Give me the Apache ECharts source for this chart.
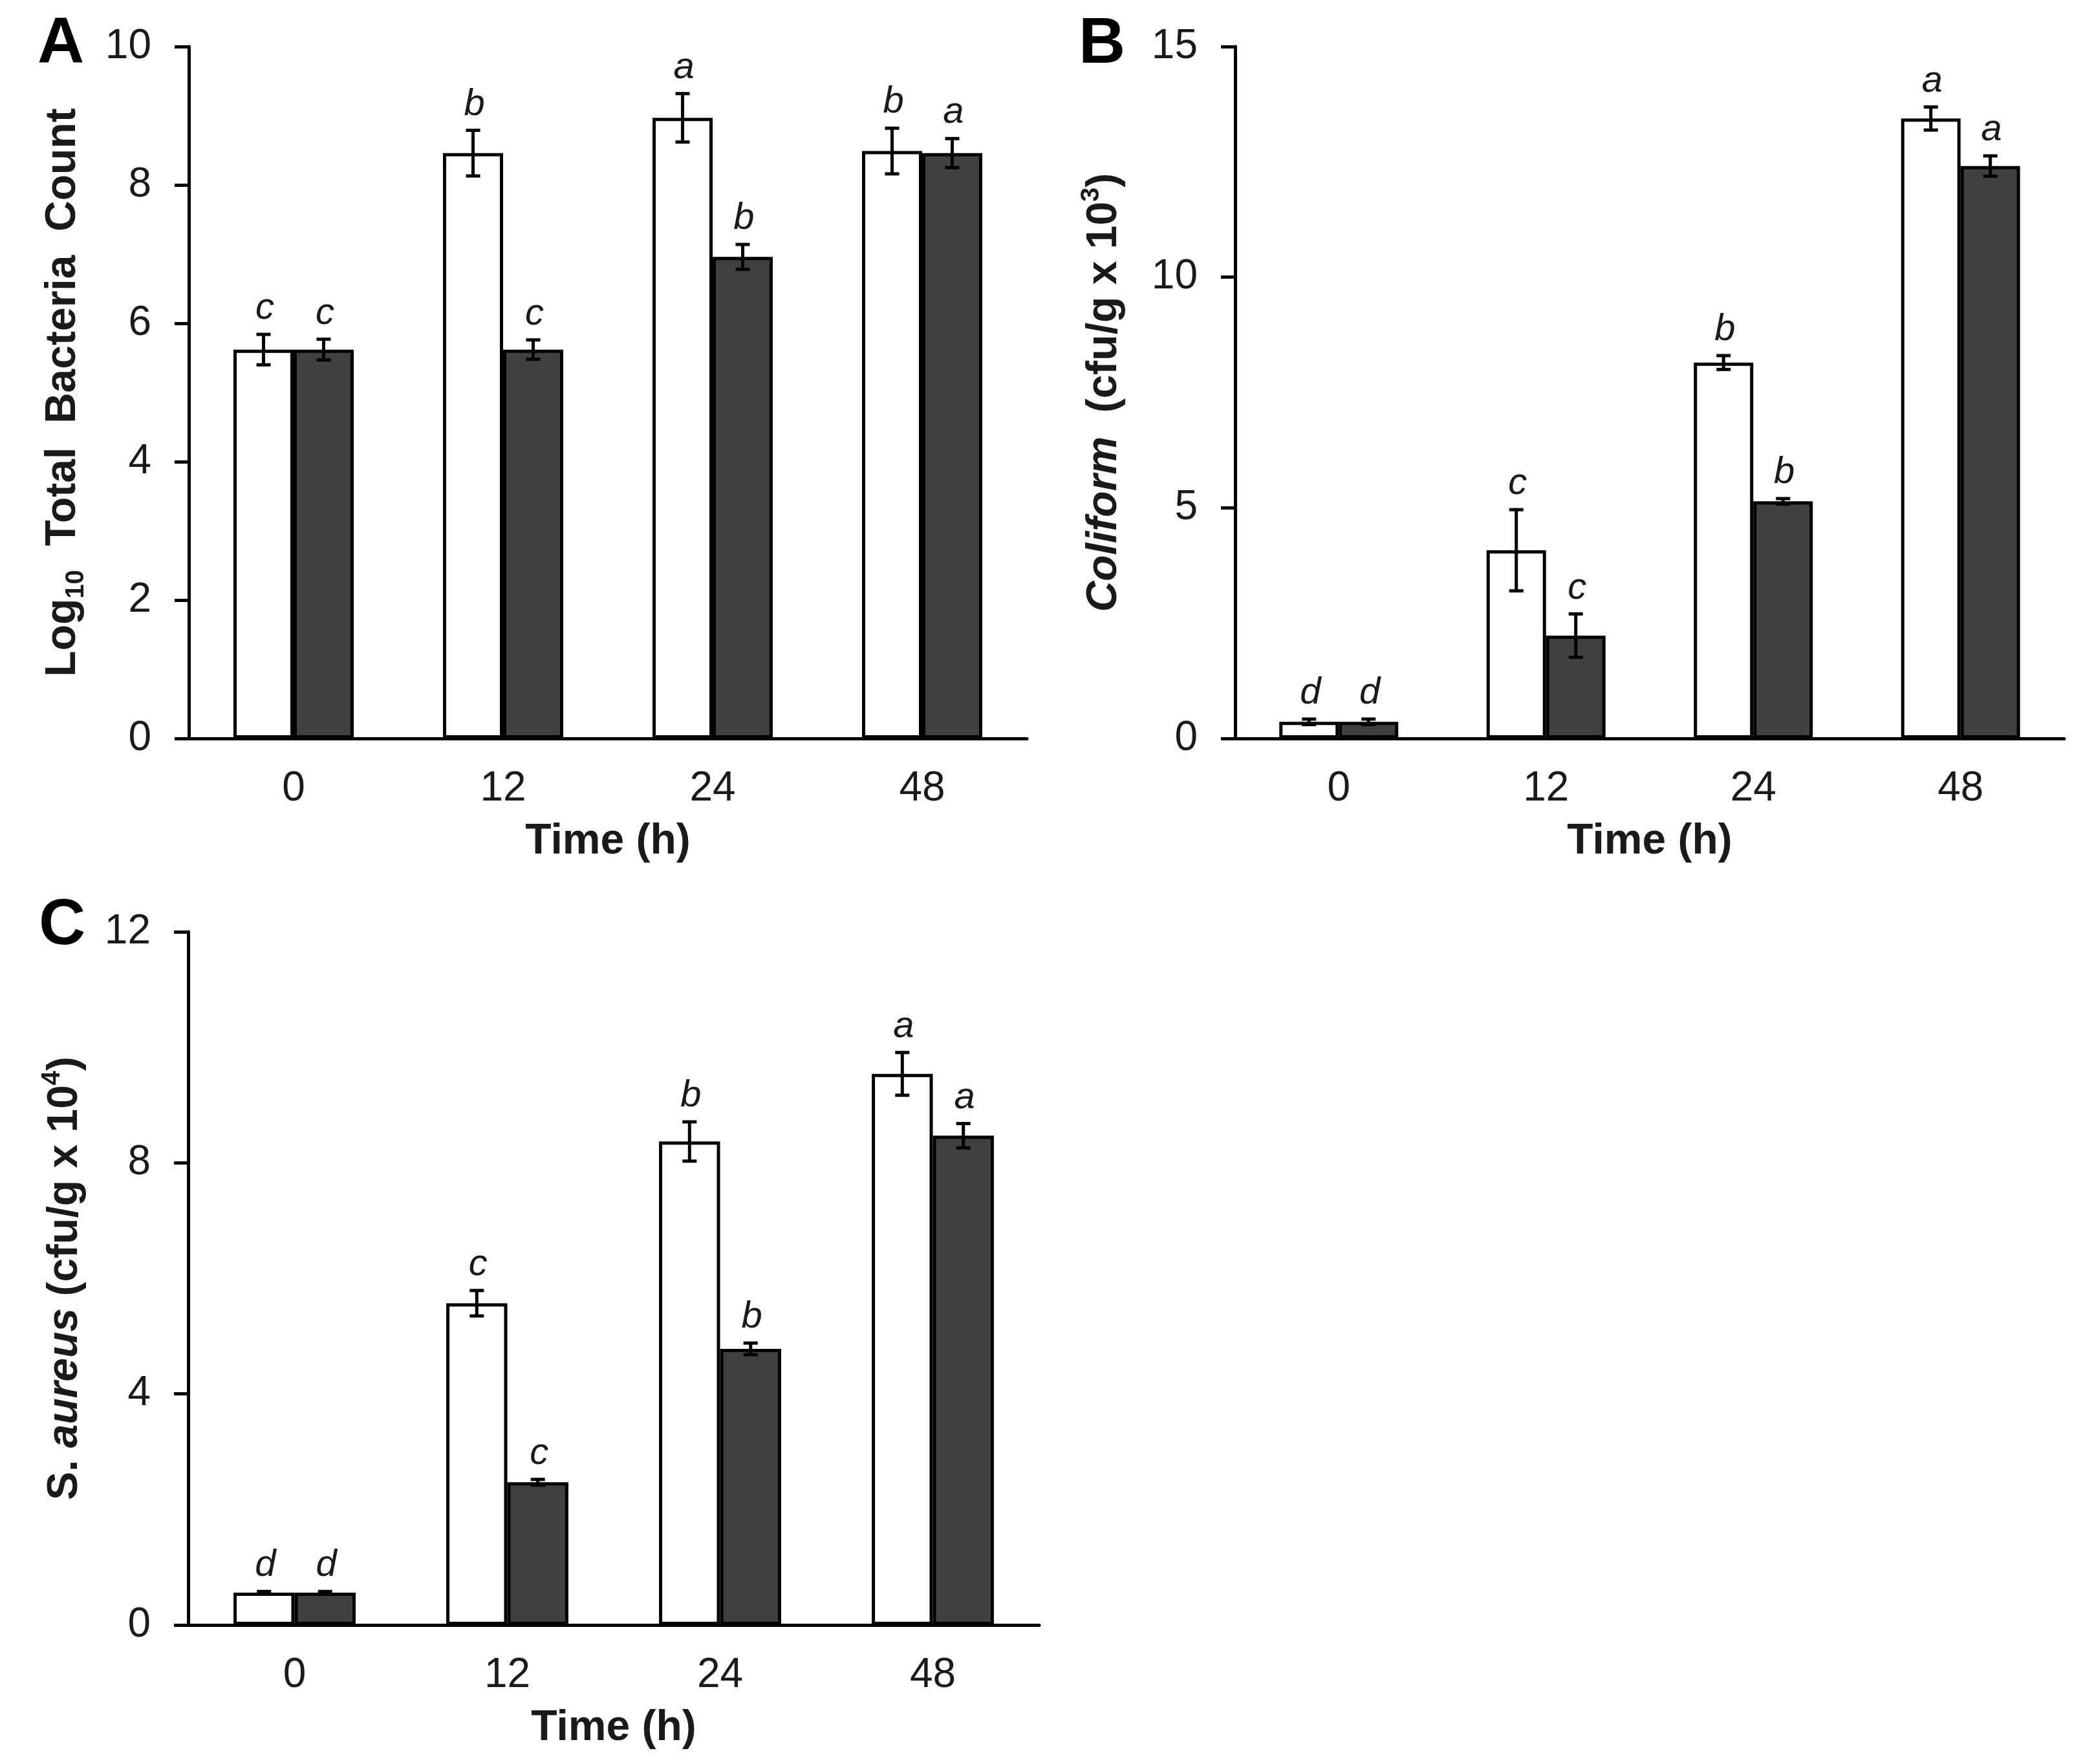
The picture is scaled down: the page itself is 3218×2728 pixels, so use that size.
<!DOCTYPE html>
<html>
<head>
<meta charset="utf-8">
<script src="https://cdn.jsdelivr.net/npm/echarts@6/dist/echarts.min.js"></script>
<style>
  html, body { margin: 0; padding: 0; background: #fff; }
  #chart { width: 3218px; height: 2728px; }
</style>
</head>
<body>
<div id="chart"></div>
<script>
// sampling times shared by the three panels
const timeLabels = ['0', '12', '24', '48'];

// A: log10 total bacteria count
const totalWhite = [5.62, 8.46, 8.97, 8.49];
const totalWhiteErr = [0.22, 0.33, 0.35, 0.33];
const totalWhiteLetters = ['c', 'b', 'a', 'b'];
const totalDark = [5.62, 5.62, 6.96, 8.46];
const totalDarkErr = [0.15, 0.14, 0.18, 0.21];
const totalDarkLetters = ['c', 'c', 'b', 'a'];

// B: coliform (cfu/g x 10^3)
const coliWhite = [0.36, 4.08, 8.15, 13.44];
const coliWhiteErr = [0.06, 0.88, 0.15, 0.25];
const coliWhiteLetters = ['d', 'c', 'b', 'a'];
const coliDark = [0.36, 2.23, 5.14, 12.41];
const coliDarkErr = [0.06, 0.47, 0.06, 0.22];
const coliDarkLetters = ['d', 'c', 'b', 'a'];

// C: S. aureus (cfu/g x 10^4)
const saWhite = [0.56, 5.57, 8.37, 9.54];
const saWhiteErr = [0.02, 0.22, 0.34, 0.37];
const saWhiteLetters = ['d', 'c', 'b', 'a'];
const saDark = [0.56, 2.47, 4.78, 8.47];
const saDarkErr = [0.02, 0.05, 0.10, 0.21];
const saDarkLetters = ['d', 'c', 'b', 'a'];

const FONT = 'Liberation Sans, Arial, sans-serif';
const INK = '#1a1a1a';
const BAR_FRACTION = 0.287;
const LINE_W = 5;

const richTitle = {
  b: { fontSize: 66, fontWeight: 'bold', fontFamily: FONT, color: INK, lineHeight: 80 },
  i: { fontSize: 66, fontWeight: 'bold', fontStyle: 'italic', fontFamily: FONT, color: INK, lineHeight: 80 },
  sub: { fontSize: 40, fontWeight: 'bold', fontFamily: FONT, color: INK, lineHeight: 42, verticalAlign: 'bottom' },
  sup: { fontSize: 40, fontWeight: 'bold', fontFamily: FONT, color: INK, lineHeight: 54, verticalAlign: 'top' }
};

function makeX(gridIndex) {
  return {
    type: 'category',
    gridIndex,
    data: timeLabels,
    name: 'Time (h)',
    nameLocation: 'middle',
    nameGap: 127,
    nameTextStyle: { fontSize: 66, fontWeight: 'bold', fontFamily: FONT, color: INK, lineHeight: 66 },
    axisLine: { lineStyle: { color: '#000', width: LINE_W } },
    axisTick: { show: false },
    axisLabel: { fontSize: 64, fontFamily: FONT, color: INK, margin: 46 },
    splitLine: { show: false }
  };
}

function makeY(gridIndex, max, interval, name, nameGap) {
  return {
    type: 'value',
    gridIndex,
    min: 0,
    max,
    interval,
    name,
    nameLocation: 'middle',
    nameGap,
    nameTextStyle: { rich: richTitle },
    axisLine: { show: true, lineStyle: { color: '#000', width: LINE_W } },
    axisTick: { show: true, length: 22, lineStyle: { color: '#000', width: LINE_W } },
    axisLabel: { fontSize: 64, fontFamily: FONT, color: INK, margin: 58 },
    splitLine: { show: false }
  };
}

function barSeries(gridIndex, values, fill) {
  return {
    type: 'bar',
    xAxisIndex: gridIndex,
    yAxisIndex: gridIndex,
    data: values,
    barWidth: (BAR_FRACTION * 100) + '%',
    barGap: '0%',
    itemStyle: { color: fill, borderColor: '#000', borderWidth: LINE_W },
    emphasis: { disabled: true }
  };
}

// error bar plus significance letter, drawn on top of one bar of each pair
function errorSeries(gridIndex, values, errs, letters, side) {
  return {
    type: 'custom',
    xAxisIndex: gridIndex,
    yAxisIndex: gridIndex,
    z: 5,
    data: values.map((v, i) => [i, v, errs[i]]),
    encode: { x: 0, y: 1 },
    renderItem: function (params, api) {
      const idx = api.value(0);
      const mean = api.value(1);
      const err = api.value(2);
      const centre = api.coord([idx, mean]);
      const catW = api.size([1, 0])[0];
      const x = centre[0] + side * catW * BAR_FRACTION / 2;
      const yTop = api.coord([idx, mean + err])[1];
      const yBot = api.coord([idx, mean - err])[1];
      const cap = 11;
      const line = { stroke: '#000', lineWidth: LINE_W };
      return {
        type: 'group',
        children: [
          { type: 'line', shape: { x1: x, y1: yTop, x2: x, y2: yBot }, style: line },
          { type: 'line', shape: { x1: x - cap, y1: yTop, x2: x + cap, y2: yTop }, style: line },
          { type: 'line', shape: { x1: x - cap, y1: yBot, x2: x + cap, y2: yBot }, style: line },
          {
            type: 'text',
            style: {
              text: letters[params.dataIndex],
              x: x + 2,
              y: yTop - 11,
              align: 'center',
              verticalAlign: 'bottom',
              fontSize: 58,
              fontStyle: 'italic',
              fontFamily: FONT,
              fill: INK
            }
          }
        ]
      };
    }
  };
}

function panelLetter(text, x, y) {
  return {
    type: 'text',
    x,
    y,
    style: {
      text,
      align: 'left',
      verticalAlign: 'middle',
      fontSize: 100,
      fontWeight: 'bold',
      fontFamily: FONT,
      fill: '#000'
    }
  };
}

const chart = echarts.init(document.getElementById('chart'));

chart.setOption({
  animation: false,
  backgroundColor: '#fff',
  grid: [
    { left: 292, top: 72, width: 1296, height: 1070 },
    { left: 1910, top: 72, width: 1282, height: 1070 },
    { left: 291, top: 1441, width: 1316, height: 1072 }
  ],
  xAxis: [makeX(0), makeX(1), makeX(2)],
  yAxis: [
    makeY(0, 10, 2, '{b|Log}{sub|10}{b|  Total  Bacteria  Count}', 154),
    makeY(1, 15, 5, '{i|Coliform}{b|  (cfu/g x 10}{sup|3}{b|)}', 162),
    makeY(2, 12, 4, '{b|S. }{i|aureus}{b| (cfu/g x 10}{sup|4}{b|)}', 150)
  ],
  graphic: [
    panelLetter('A', 58, 69),
    panelLetter('B', 1668, 69),
    panelLetter('C', 60, 1432)
  ],
  series: [
    barSeries(0, totalWhite, '#ffffff'),
    barSeries(0, totalDark, '#404040'),
    errorSeries(0, totalWhite, totalWhiteErr, totalWhiteLetters, -1),
    errorSeries(0, totalDark, totalDarkErr, totalDarkLetters, 1),

    barSeries(1, coliWhite, '#ffffff'),
    barSeries(1, coliDark, '#404040'),
    errorSeries(1, coliWhite, coliWhiteErr, coliWhiteLetters, -1),
    errorSeries(1, coliDark, coliDarkErr, coliDarkLetters, 1),

    barSeries(2, saWhite, '#ffffff'),
    barSeries(2, saDark, '#404040'),
    errorSeries(2, saWhite, saWhiteErr, saWhiteLetters, -1),
    errorSeries(2, saDark, saDarkErr, saDarkLetters, 1)
  ]
});
</script>
</body>
</html>
